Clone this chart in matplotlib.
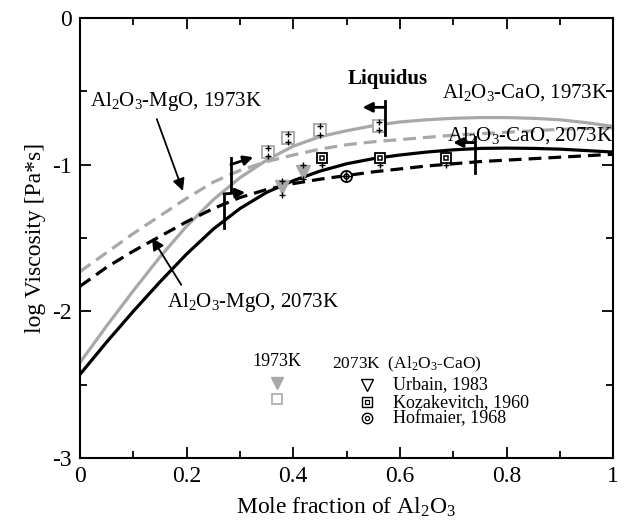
import numpy as np
import matplotlib.pyplot as plt

plt.rcParams['font.family'] = ['Liberation Serif', 'DejaVu Serif']
plt.rcParams['mathtext.fontset'] = 'custom'
plt.rcParams['mathtext.rm'] = 'Liberation Serif'
plt.rcParams['mathtext.it'] = 'Liberation Serif:italic'

GRAY = '#a8a8a8'

# curves
x_curve = [0, 0.05, 0.1, 0.15, 0.2, 0.25, 0.3, 0.35, 0.4, 0.45, 0.5,
           0.55, 0.6, 0.65, 0.7, 0.75, 0.8, 0.85, 0.9, 0.95, 1.0]
cao_2073 = [-2.43, -2.21, -2.00, -1.80, -1.61, -1.44, -1.30, -1.19, -1.11, -1.045, -0.995,
            -0.96, -0.935, -0.915, -0.90, -0.89, -0.888, -0.89, -0.895, -0.905, -0.915]
cao_1973 = [-2.35, -2.10, -1.86, -1.63, -1.42, -1.24, -1.09, -0.97, -0.875, -0.81, -0.77,
            -0.735, -0.71, -0.695, -0.685, -0.68, -0.68, -0.685, -0.695, -0.715, -0.74]
mgo_1973 = [-1.73, -1.60, -1.47, -1.35, -1.23, -1.12, -1.04, -0.98, -0.935, -0.895, -0.865,
            -0.845, -0.83, -0.815, -0.80, -0.79, -0.78, -0.77, -0.76, -0.755, -0.75]
mgo_2073 = [-1.83, -1.70, -1.59, -1.49, -1.39, -1.30, -1.225, -1.17, -1.13, -1.10, -1.075,
            -1.05, -1.03, -1.01, -0.995, -0.98, -0.97, -0.96, -0.95, -0.94, -0.93]

# measured points
sq1973_x = [0.353, 0.391, 0.450, 0.560]
sq1973_y = [-0.915, -0.82, -0.768, -0.74]
tri1973_x = [0.378, 0.419]
tri1973_y = [-1.155, -1.048]
koz_x = [0.453, 0.562, 0.687]
koz_y = [-0.957, -0.957, -0.957]
hof_x = [0.499]
hof_y = [-1.08]

# liquidus markers: x, top, bottom, arrow start y, arrow end x, arrow end y
liq_x = [0.283, 0.270, 0.572, 0.741]
liq_top = [-0.955, -1.20, -0.57, -0.81]
liq_bot = [-1.19, -1.43, -0.80, -1.06]
liq_ay = [-1.00, -1.20, -0.61, -0.85]
liq_ex = [0.325, 0.310, 0.530, 0.700]
liq_ey = [-0.95, -1.19, -0.61, -0.85]

fig = plt.figure(figsize=(6.25, 5.24), dpi=100)
ax = fig.add_axes([0.128, 0.126, 0.853, 0.84])

ax.plot(x_curve, mgo_1973, color=GRAY, lw=2.3, dashes=(4, 2.2))
ax.plot(x_curve, cao_1973, color=GRAY, lw=2.3)
ax.plot(x_curve, mgo_2073, color='black', lw=2.3, dashes=(4, 2.2))
ax.plot(x_curve, cao_2073, color='black', lw=2.3)

# 1973K data
ax.plot(sq1973_x, sq1973_y, 's', ms=8, mfc='white', mec=GRAY, mew=1.3)
ax.plot(sq1973_x, [y + 0.028 for y in sq1973_y], '+', color='black', ms=4, mew=1)
ax.plot(sq1973_x, [y - 0.028 for y in sq1973_y], '+', color='black', ms=4, mew=1)
ax.plot(tri1973_x, tri1973_y, 'v', ms=10, color=GRAY)
ax.plot(tri1973_x, [y + 0.045 for y in tri1973_y], '+', color='black', ms=4, mew=1)
ax.plot(tri1973_x, [y - 0.05 for y in tri1973_y], '+', color='black', ms=4, mew=1)

# 2073K data
ax.plot(koz_x, koz_y, 's', ms=7.5, mfc='white', mec='black', mew=1.3)
ax.plot(koz_x, koz_y, 's', ms=3.5, mfc='white', mec='black', mew=1.1)
ax.plot(koz_x, [y - 0.045 for y in koz_y], '+', color='black', ms=4, mew=1)
ax.plot(hof_x, hof_y, 'o', ms=8, mfc='white', mec='black', mew=1.3)
ax.plot(hof_x, hof_y, 'o', ms=3.5, mfc='white', mec='black', mew=1.1)
ax.plot(hof_x, hof_y, '+', ms=9, color='black', mew=1)

for lx, t, b, ay, ex, ey in zip(liq_x, liq_top, liq_bot, liq_ay, liq_ex, liq_ey):
    ax.plot([lx, lx], [t, b], color='black', lw=2)
    ax.annotate('', xy=(ex, ey), xytext=(lx, ay),
                arrowprops=dict(arrowstyle='-|>', color='black', lw=2,
                                mutation_scale=14, shrinkA=0, shrinkB=0))

ax.text(0.578, -0.42, 'Liquidus', fontsize=15, fontweight='bold', ha='center', va='center')
ax.text(0.99, -0.51, 'Al$_2$O$_3$-CaO, 1973K', fontsize=15, ha='right', va='center')
ax.text(1.0, -0.80, 'Al$_2$O$_3$-CaO, 2073K', fontsize=15, ha='right', va='center')
ax.text(0.019, -0.57, 'Al$_2$O$_3$-MgO, 1973K', fontsize=15, ha='left', va='center')
ax.text(0.163, -1.94, 'Al$_2$O$_3$-MgO, 2073K', fontsize=15, ha='left', va='center')

arrow = dict(arrowstyle='-|>', color='black', lw=1.3, mutation_scale=18, shrinkA=0, shrinkB=0)
ax.annotate('', xy=(0.193, -1.18), xytext=(0.144, -0.69), arrowprops=arrow)
ax.annotate('', xy=(0.135, -1.50), xytext=(0.19, -1.82), arrowprops=arrow)

# legend block
ax.text(0.37, -2.345, '1973K', fontsize=13, ha='center', va='center')
ax.plot([0.37], [-2.49], 'v', ms=8, color=GRAY)
ax.plot([0.37], [-2.60], 's', ms=6.5, mfc='white', mec=GRAY, mew=1.2)
ax.text(0.473, -2.365, '2073K  (Al$_2$O$_3$-CaO)', fontsize=12.5, ha='left', va='center')
ax.plot([0.538], [-2.50], 'v', ms=8, mfc='white', mec='black', mew=1)
ax.plot([0.538], [-2.62], 's', ms=7, mfc='white', mec='black', mew=1)
ax.plot([0.538], [-2.62], 's', ms=3, mfc='white', mec='black', mew=0.9)
ax.plot([0.538], [-2.73], 'o', ms=7.5, mfc='white', mec='black', mew=1)
ax.plot([0.538], [-2.73], 'o', ms=3, mfc='white', mec='black', mew=0.9)
ax.text(0.587, -2.50, 'Urbain, 1983', fontsize=13, ha='left', va='center')
ax.text(0.587, -2.62, 'Kozakevitch, 1960', fontsize=13, ha='left', va='center')
ax.text(0.587, -2.73, 'Hofmaier, 1968', fontsize=13, ha='left', va='center')

ax.set_xlim(0, 1)
ax.set_ylim(-3, 0)
ax.set_xticks([0, 0.2, 0.4, 0.6, 0.8, 1.0])
ax.set_xticklabels(['0', '0.2', '0.4', '0.6', '0.8', '1'])
ax.set_xticks(np.arange(0.1, 1.0, 0.2), minor=True)
ax.set_yticks([-3, -2, -1, 0])
ax.set_yticklabels(['-3', '-2', '-1', '0'])
ax.set_yticks([-2.5, -1.5, -0.5], minor=True)
ax.tick_params(which='both', direction='in', top=True, right=True, labelsize=17, width=1.3)
ax.tick_params(which='major', length=8, pad=6)
ax.tick_params(which='minor', length=5)
for s in ax.spines.values():
    s.set_linewidth(1.5)

ax.set_xlabel('Mole fraction of Al$_2$O$_3$', fontsize=17, labelpad=6)
ax.set_ylabel('log Viscosity [Pa*s]', fontsize=17, labelpad=4)

fig.savefig('out.png', dpi=100)
